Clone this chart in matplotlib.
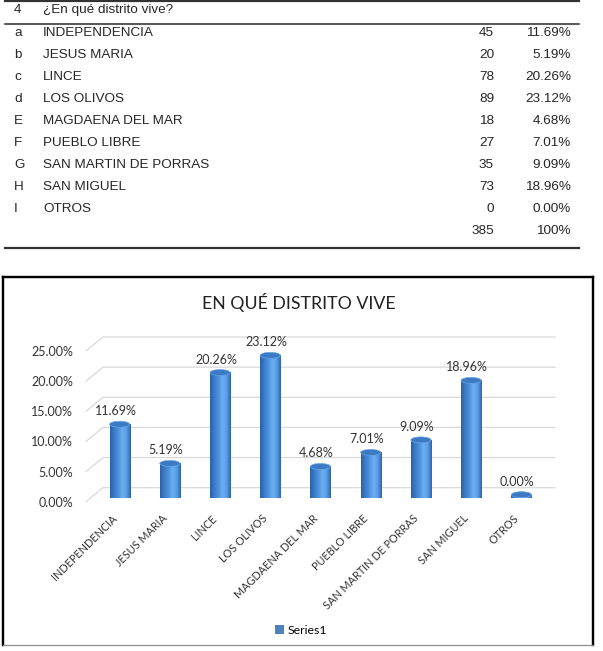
import numpy as np
import matplotlib
matplotlib.use('Agg')
import matplotlib.pyplot as plt
from matplotlib.lines import Line2D
from matplotlib.patches import Ellipse, Patch
from matplotlib.path import Path
from matplotlib.colors import LinearSegmentedColormap
from matplotlib import transforms

# data (table + chart)
question_no = '4'
question = '¿En qué distrito vive?'
letters = ['a', 'b', 'c', 'd', 'E', 'F', 'G', 'H', 'I']
districts = ['INDEPENDENCIA', 'JESUS MARIA', 'LINCE', 'LOS OLIVOS',
             'MAGDAENA DEL MAR', 'PUEBLO LIBRE', 'SAN MARTIN DE PORRAS',
             'SAN MIGUEL', 'OTROS']
counts = [45, 20, 78, 89, 18, 27, 35, 73, 0]
percents = [11.69, 5.19, 20.26, 23.12, 4.68, 7.01, 9.09, 18.96, 0.00]
total_count = 385
total_pct = '100%'
yticks = [0, 5, 10, 15, 20, 25]
chart_title = 'EN QUÉ DISTRITO VIVE'
series_name = 'Series1'

W, H = 603, 651
fig = plt.figure(figsize=(W / 100, H / 100), dpi=100)


def fx(px):
    return px / W


def fy(py):
    return 1 - py / H


# ---- table ----
tfont = dict(family='Liberation Sans', fontsize=9.7, color='#262626', va='center')
fig.text(fx(14), fy(10), question_no, **tfont)
fig.text(fx(43), fy(10), question, **tfont)
row_y0, row_h = 33, 22
for k, (l, d, c, p) in enumerate(zip(letters, districts, counts, percents)):
    y = fy(row_y0 + k * row_h)
    fig.text(fx(14), y, l, **tfont)
    fig.text(fx(43), y, d, **tfont)
    fig.text(fx(494), y, str(c), ha='right', **tfont)
    fig.text(fx(571), y, f'{p:.2f}%', ha='right', **tfont)
y = fy(row_y0 + len(letters) * row_h)
fig.text(fx(494), y, str(total_count), ha='right', **tfont)
fig.text(fx(571), y, total_pct, ha='right', **tfont)
for py, lw in [(1, 2.2), (24, 1.6), (248, 2.2)]:
    fig.add_artist(Line2D([fx(5), fx(579)], [fy(py), fy(py)],
                          lw=lw * 0.72, color='#333333'))

# ---- chart frame ----
for xs, ys, col, lw in [([3, 593], [277, 277], 'black', 2.4),
                        ([3, 3], [277, 645], 'black', 2.4),
                        ([593, 593], [277, 645], 'black', 2.4),
                        ([3, 593], [645, 645], '#8c8c8c', 1.2)]:
    fig.add_artist(Line2D([fx(v) for v in xs], [fy(v) for v in ys],
                          lw=lw * 0.72, color=col, solid_capstyle='projecting'))

cfont = 'Lato'
fig.text(fx(299), fy(302), chart_title, ha='center', va='center',
         fontsize=12.8, family=cfont, color='#222222')

ax = fig.add_axes([fx(86), fy(501.7), fx(538) - fx(86), (501.7 - 351) / H])
ax.set_xlim(-0.5, 8.5)
ax.set_ylim(0, 25)
for s in ax.spines.values():
    s.set_visible(False)
ax.set_yticks(yticks)
ax.set_yticklabels([f'{t:.2f}%' for t in yticks], family=cfont,
                   fontsize=9, color='#333333')
ax.set_xticks(range(len(districts)))
ax.set_xticklabels(districts, rotation=45, ha='right', rotation_mode='anchor',
                   family=cfont, fontsize=7.8, color='#333333')
ax.tick_params(axis='y', length=0, pad=9.5)
ax.tick_params(axis='x', length=0, pad=8)
ax.patch.set_alpha(0)

# pixel size of one data unit
p0 = ax.transData.transform((0, 0))
p1 = ax.transData.transform((1, 1))
ppx, ppy = p1 - p0

# 3d-ish gridlines: front edge slanting to the back wall
dxd, dyd = 17 / ppx, 14 / ppy
for t in yticks:
    ax.plot([-0.5, -0.5 + dxd, 8.5 + dxd], [t, t + dyd, t + dyd],
            color='#d9d9d9', lw=0.9, clip_on=False, zorder=0)

# cylinders at mid depth
tr = transforms.offset_copy(ax.transData, fig=fig, x=8.5, y=7, units='dots')
cmap = LinearSegmentedColormap.from_list(
    'cyl', ['#2b62a3', '#3b7cc8', '#4d90dc', '#6cb0f2', '#5a9de6', '#2e66aa'])
grad = np.linspace(0, 1, 64)[None, :]
w = 0.2
eh = 3.0 / ppy
arc = np.linspace(0, np.pi, 40)
for i, v in enumerate(percents):
    verts = [(i - w, v), (i - w, 0)]
    verts += [(i - w * np.cos(a), -eh * np.sin(a)) for a in arc]
    verts += [(i + w, v), (i - w, v)]
    path = Path(verts, closed=True)
    im = ax.imshow(grad, cmap=cmap, extent=(i - w, i + w, -eh, v),
                   aspect='auto', transform=tr, zorder=2,
                   interpolation='bilinear', clip_on=False)
    im.set_clip_path(path, tr)
    ax.add_patch(Ellipse((i, v), 2 * w, 2 * eh, transform=tr,
                         facecolor='#3c7ac4', edgecolor='#6aa6e8',
                         lw=0.5, zorder=3, clip_on=False))
    ax.annotate(f'{v:.2f}%', (i, v), xycoords=tr, xytext=(-4, 13),
                textcoords='offset pixels', ha='center', va='center',
                family=cfont, fontsize=9, color='#333333')

ax.set_xlim(-0.5, 8.5)
ax.set_ylim(0, 25)

fig.legend(handles=[Patch(facecolor='#4f81bd', label=series_name)],
           loc='center', bbox_to_anchor=(fx(301), fy(630)), frameon=False,
           prop={'family': cfont, 'size': 8.8}, handlelength=0.7,
           handleheight=0.7, handletextpad=0.3)

fig.savefig('out.png', dpi=100)
